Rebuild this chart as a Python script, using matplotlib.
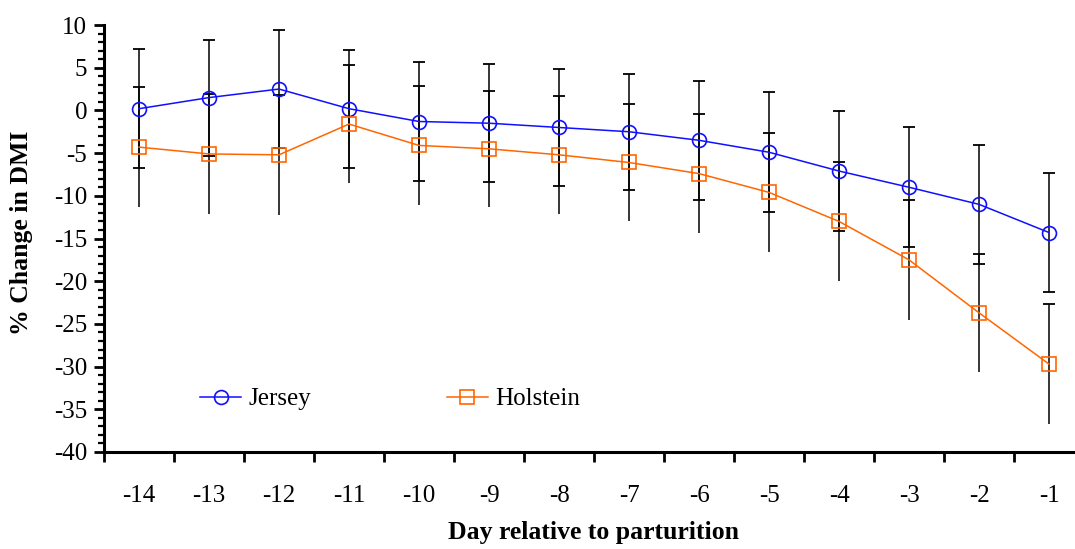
import numpy as np
import matplotlib
matplotlib.use("Agg")
import matplotlib.pyplot as plt
from matplotlib.ticker import MultipleLocator, FixedLocator, NullFormatter

# --- Data ---
days = [-14, -13, -12, -11, -10, -9, -8, -7, -6, -5, -4, -3, -2, -1]
jersey = [0.2, 1.5, 2.5, 0.2, -1.3, -1.5, -2.0, -2.5, -3.5, -4.9, -7.1, -9.0, -11.0, -14.3]
jersey_err = [7.0, 6.8, 6.9, 6.9, 7.0, 6.9, 6.9, 6.8, 7.0, 7.0, 7.0, 7.0, 7.0, 7.0]
holstein = [-4.3, -5.1, -5.2, -1.6, -4.1, -4.5, -5.2, -6.1, -7.4, -9.6, -13.0, -17.5, -23.7, -29.7]
holstein_err = [7.0, 7.0, 7.0, 6.9, 7.0, 6.8, 6.9, 6.9, 7.0, 7.0, 7.0, 7.0, 6.9, 7.0]

BLUE = "#1010FF"
ORANGE = "#FF6600"

plt.rcParams["font.family"] = ["Liberation Serif", "DejaVu Serif"]
plt.rcParams["axes.unicode_minus"] = False

fig = plt.figure(figsize=(10.75, 5.49), dpi=100)
ax = fig.add_axes([104 / 1075, 97 / 549, 980 / 1075, 427 / 549])

x = np.array(days)
jy, je = np.array(jersey), np.array(jersey_err)
hy, he = np.array(holstein), np.array(holstein_err)

# error bars (Holstein has a cap only on the upper end)
ax.errorbar(x, jy, yerr=je, fmt="none", ecolor="black", elinewidth=1.1, capsize=0, zorder=1)
ax.errorbar(x, hy, yerr=he, fmt="none", ecolor="black", elinewidth=1.1, capsize=0, zorder=1)
ax.plot(x, jy + je, ls="none", marker="_", ms=8, mew=1.3, color="black", zorder=1)
ax.plot(x, jy - je, ls="none", marker="_", ms=8, mew=1.3, color="black", zorder=1)
ax.plot(x, hy + he, ls="none", marker="_", ms=8, mew=1.3, color="black", zorder=1)

ax.plot(x, jy, color=BLUE, lw=1.1, marker="o", ms=10, mfc="none", mec=BLUE, mew=1.2,
        label="Jersey", zorder=3)
ax.plot(x, hy, color=ORANGE, lw=1.1, marker="s", ms=9.5, mfc="none", mec=ORANGE, mew=1.2,
        label="Holstein", zorder=3)

ax.set_xlim(-14.5, -0.5)
ax.set_ylim(-40, 10)

# y axis ticks
ax.yaxis.set_major_locator(MultipleLocator(5))
ax.yaxis.set_minor_locator(MultipleLocator(1))
ax.tick_params(axis="y", which="major", direction="out", length=7, width=2, labelsize=18, pad=5)
ax.tick_params(axis="y", which="minor", direction="out", length=4.5, width=1.6)

# x axis: ticks at category boundaries, labels at centres
ax.xaxis.set_major_locator(FixedLocator(np.arange(-14.5, 0, 1.0)))
ax.xaxis.set_major_formatter(NullFormatter())
ax.set_xticks(days, [str(d) for d in days], minor=True)
ax.tick_params(axis="x", which="major", direction="out", length=7, width=2)
ax.tick_params(axis="x", which="minor", length=0, labelsize=18, pad=24)

for side in ["top", "right"]:
    ax.spines[side].set_visible(False)
for side in ["left", "bottom"]:
    ax.spines[side].set_linewidth(2.2)

ax.set_ylabel("% Change in DMI", fontsize=18.5, fontweight="bold")
ax.yaxis.set_label_coords(-0.0724, 0.513)
ax.set_xlabel("Day relative to parturition", fontsize=18.5, fontweight="bold")
ax.xaxis.set_label_coords(0.5, -0.162)

ax.legend(loc="center left", bbox_to_anchor=(0.098, 0.124), ncol=2, frameon=False,
          fontsize=18, handlelength=1.65, handletextpad=0.3, columnspacing=5.4,
          borderpad=0, borderaxespad=0)

fig.savefig("out.png", dpi=100)
